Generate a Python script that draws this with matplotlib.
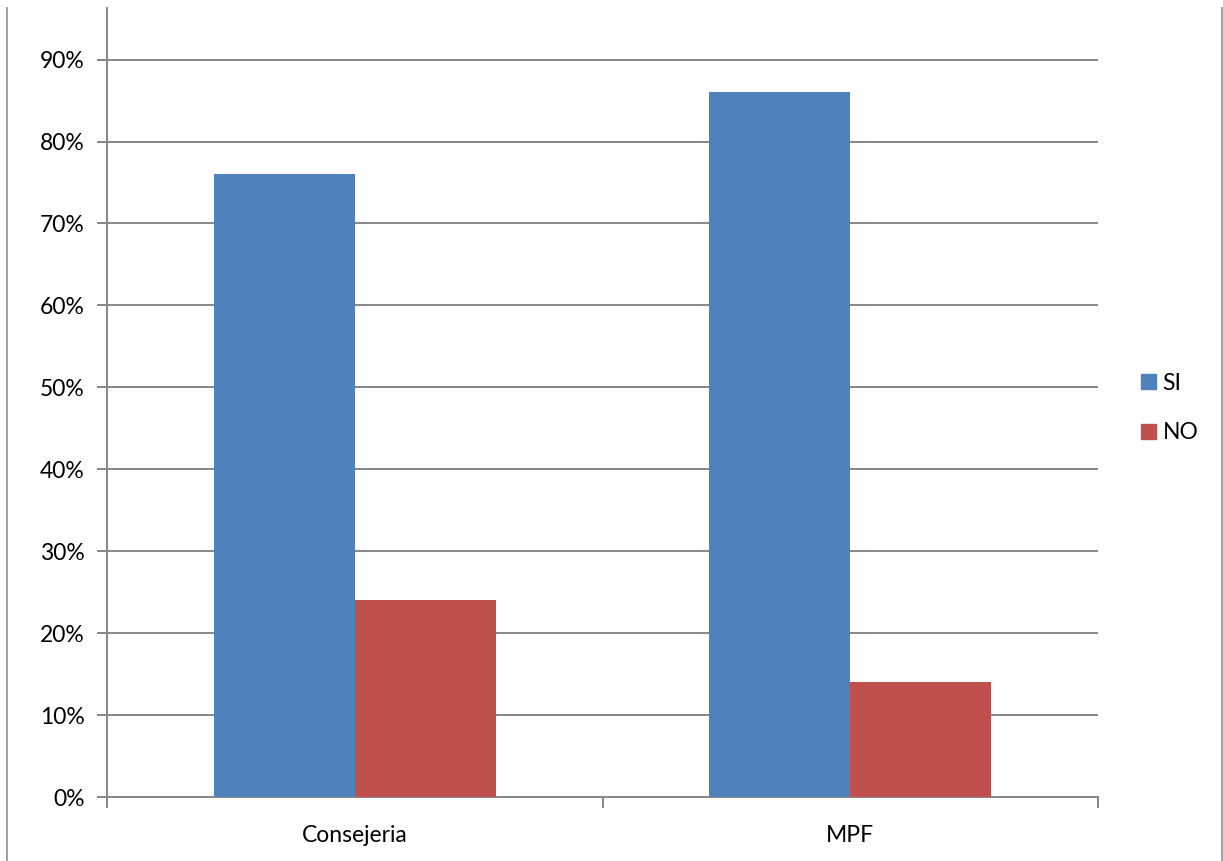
import matplotlib
matplotlib.use("Agg")
import matplotlib.pyplot as plt
from matplotlib.lines import Line2D
from matplotlib.patches import Patch
import numpy as np

categories = ["Consejeria", "MPF"]
si_values = [0.76, 0.86]
no_values = [0.24, 0.14]
series_names = ["SI", "NO"]
ytick_values = [0.0, 0.1, 0.2, 0.3, 0.4, 0.5, 0.6, 0.7, 0.8, 0.9]
ytick_labels = ["0%", "10%", "20%", "30%", "40%", "50%", "60%", "70%", "80%", "90%"]

plt.rcParams['font.family'] = ['Lato', 'DejaVu Sans']
W, H = 1223, 861
fig = plt.figure(figsize=(W/100, H/100), dpi=100)
ax = fig.add_axes([107/W, (H-797)/H, (1098-107)/W, (797-8)/H])

blue = "#4F81BD"
red = "#C0504D"
grid = "#868686"
fs = 16.5
bw = 0.285
x = np.arange(len(categories))
ax.bar(x - bw/2, si_values, width=bw, color=blue, zorder=3)
ax.bar(x + bw/2, no_values, width=bw, color=red, zorder=3)

ax.set_xlim(-0.5, 1.5)
ax.set_ylim(0, 0.963)
ax.set_yticks(ytick_values)
ax.set_yticklabels(ytick_labels, fontsize=fs)
for t in ytick_values[1:]:
    ax.axhline(t, color=grid, lw=1.4, zorder=1)

ax.set_xticks([-0.5, 0.5, 1.5])
ax.set_xticklabels([])
ax.set_xticks(x, minor=True)
ax.set_xticklabels(categories, minor=True, fontsize=fs)
ax.tick_params(axis='x', which='minor', length=0, pad=20)
ax.tick_params(axis='x', which='major', length=8, width=1.4, color=grid)
ax.tick_params(axis='y', length=7, width=1.4, color=grid, pad=9)

for s in ['top', 'right']:
    ax.spines[s].set_visible(False)
for s in ['left', 'bottom']:
    ax.spines[s].set_color(grid)
    ax.spines[s].set_linewidth(1.4)

# figure frame lines
fig.add_artist(Line2D([7/W, 7/W], [0, (H-8)/H], color="#A0A0A0", lw=1.4))
fig.add_artist(Line2D([1222/W, 1222/W], [0, (H-8)/H], color="#A0A0A0", lw=1.4))

handles = [Patch(color=blue), Patch(color=red)]
leg = fig.legend(handles, series_names, loc='center left',
                 bbox_to_anchor=(1120/W, (H-408)/H), frameon=False,
                 fontsize=fs, handlelength=0.65, handleheight=0.65,
                 handletextpad=0.3, labelspacing=1.25)

fig.savefig("out.png", dpi=100)
